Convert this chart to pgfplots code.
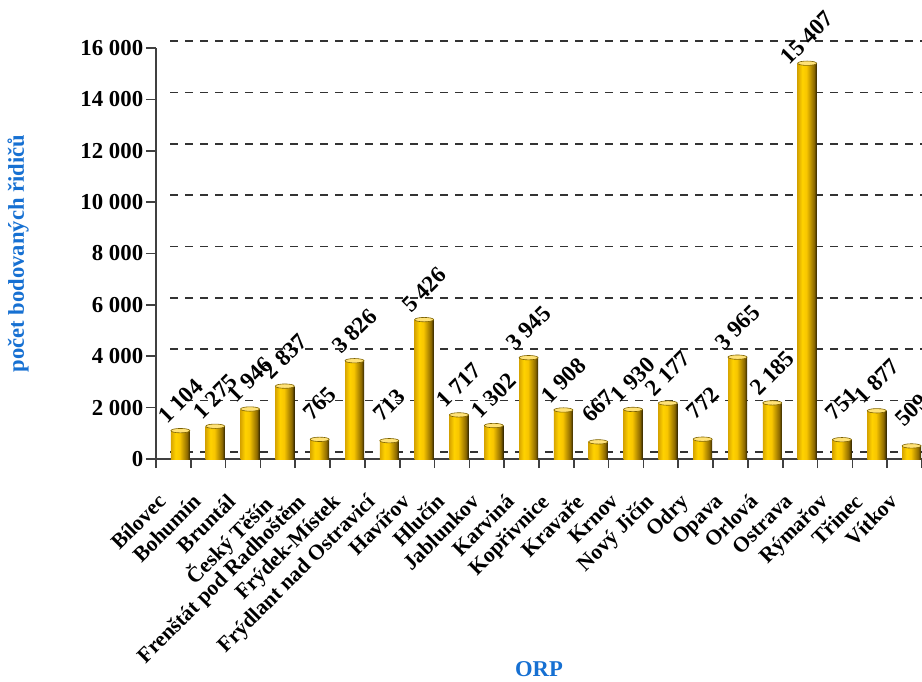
\documentclass[border=0pt]{standalone}
\usepackage{fontspec}
\setmainfont{Liberation Serif}
\usepackage{graphicx}
\usepackage{pgfplots}
\pgfplotsset{compat=1.18}
\definecolor{lblue}{RGB}{22,112,210}
\definecolor{gA}{RGB}{215,165,0}
\definecolor{gB}{RGB}{255,210,0}
\definecolor{gC}{RGB}{248,198,0}
\definecolor{gD}{RGB}{140,105,0}
\definecolor{gE}{RGB}{50,38,0}
\definecolor{capfill}{RGB}{255,226,120}
\definecolor{capline}{RGB}{125,98,0}
\pgfdeclarehorizontalshading{barshade}{100bp}{color(0bp)=(gA); color(25bp)=(gA); color(37bp)=(gB); color(48bp)=(gC); color(68bp)=(gD); color(75bp)=(gE); color(100bp)=(gE)}
\pgfdeclareplotmark{cap}{%
  \pgfpathellipse{\pgfpoint{0pt}{0pt}}{\pgfpoint{4.75pt}{0pt}}{\pgfpoint{0pt}{1.1pt}}%
  \pgfsetfillcolor{capfill}\pgfsetstrokecolor{capline}\pgfsetlinewidth{0.3pt}%
  \pgfusepathqfillstroke}
\pgfplotstableread{
x y
0 1104
1 1275
2 1946
3 2837
4 765
5 3826
6 713
7 5426
8 1717
9 1302
10 3945
11 1908
12 667
13 1930
14 2177
15 772
16 3965
17 2185
18 15407
19 751
20 1877
21 509
}\datatable
\begin{document}
\begin{tikzpicture}
\useasboundingbox (0,0) rectangle (461pt,340.5pt);
\clip (0,0) rectangle (461pt,340.5pt);
\begin{axis}[
  at={(78pt,111pt)}, anchor=south west,
  width=383pt, height=205.5pt, scale only axis,
  xmin=-0.5, xmax=21.5, ymin=0, ymax=16000,
  scaled y ticks=false,
  axis x line*=bottom, axis y line*=left,
  axis line style={draw=black!75, line width=0.8pt},
  tick align=outside,
  major tick length=5pt, minor tick length=4.5pt,
  xtick={0,...,21},
  minor xtick={-0.5,0.5,...,21.5},
  major x tick style={draw=none},
  minor x tick style={draw=black!75, line width=0.8pt},
  y tick style={draw=black!75, line width=0.8pt},
  xticklabels={B\'ilovec,Bohum\'in,Brunt\'al,Česk\'y Těš\'in,Frenšt\'at pod Radhoštěm,Fr\'ydek-M\'istek,Fr\'ydlant nad Ostravic\'i,Hav\'iřov,Hlučín,Jablunkov,Karvin\'a,Kopřivnice,Kravaře,Krnov,Nov\'y Jič\'in,Odry,Opava,Orlov\'a,Ostrava,R\'ymařov,Třinec,V\'itkov},
  xticklabel style={inner sep=0pt, xshift=-8.5pt, yshift=-11.5pt, rotate=45, anchor=north east, font=\bfseries\fontsize{10.8}{13}\selectfont},
  ytick={0,2000,...,16000},
  yticklabels={0,2~000,4~000,6~000,8~000,10~000,12~000,14~000,16~000},
  yticklabel style={inner sep=1.2pt, font=\bfseries\fontsize{11.4}{13}\selectfont},
  ymajorgrids,
  major grid style={draw=black!80, line width=0.8pt, dash pattern=on 4pt off 3.5pt, shift={(7pt,3.5pt)}},
  xlabel={ORP},
  xlabel style={at={(axis description cs:0.5,-0.512)}, anchor=center, font=\bfseries\fontsize{11.3}{13}\selectfont, text=lblue},
  ylabel={počet bodovaných řidičů},
  ylabel style={at={(axis description cs:-0.180,0.5)}, anchor=center, font=\bfseries\fontsize{11.3}{13}\selectfont, text=lblue},
  /pgf/number format/assume math mode=true,
  /pgf/number format/1000 sep={\ },
  clip=false,
]
\pgfplotsinvokeforeach{0,...,21}{
  \addplot[ybar, bar width=9.5pt, bar shift=3.5pt, draw=none, shading=barshade, shading angle=0,
    restrict expr to domain={\coordindex}{#1:#1}] table[x=x,y=y] {\datatable};
}
\addplot[only marks, mark=cap, mark options={xshift=3.5pt},
  nodes near coords={\rotatebox{45}{\pgfmathprintnumber{\pgfplotspointmeta}}},
  every node near coord/.append style={anchor=north, yshift=27pt, inner sep=0pt, text=black, font=\bfseries\fontsize{11.6}{14}\selectfont}
  ] table[x=x,y=y] {\datatable};
\end{axis}
\end{tikzpicture}
\end{document}
